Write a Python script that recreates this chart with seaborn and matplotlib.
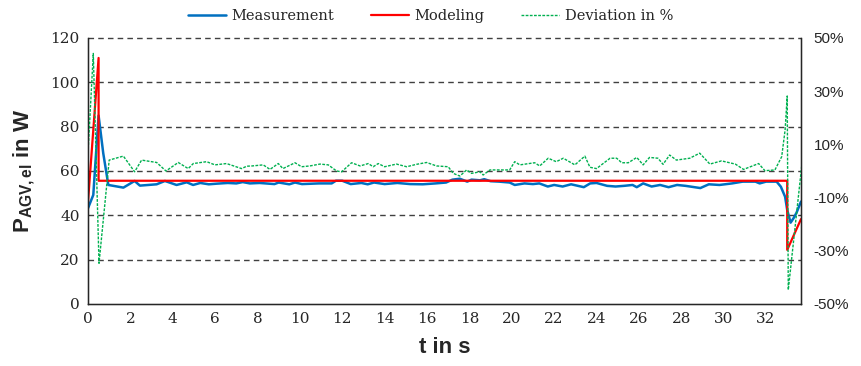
import numpy as np
import pandas as pd
import seaborn as sns
from matplotlib import pyplot as plt
from matplotlib.ticker import FuncFormatter

# measured power (W)
t_meas = [0, 0.25, 0.5, 0.72, 0.96, 1.67, 2.2, 2.45, 3.24, 3.63, 4.18, 4.66, 4.96,
          5.3, 5.7, 6.1, 6.6, 7.0, 7.3, 7.64, 8.1, 8.8, 9.0, 9.5, 9.77, 10.1, 10.9,
          11.5, 11.7, 12.0, 12.4, 12.9, 13.2, 13.5, 14.0, 14.6, 15.2, 15.8, 16.4,
          16.9, 17.2, 17.55, 17.9, 18.1, 18.5, 18.7, 19.0, 19.4, 19.9, 20.14, 20.6,
          21.0, 21.3, 21.7, 22.0, 22.4, 22.8, 23.4, 23.7, 24.0, 24.5, 24.9, 25.3,
          25.7, 25.9, 26.2, 26.6, 27.0, 27.4, 27.8, 28.2, 28.9, 29.3, 29.8, 30.4,
          30.9, 31.5, 31.7, 32.0, 32.5, 32.7, 32.9, 33.0, 33.16, 33.3, 33.44, 33.65]
p_meas = [43.2, 49.2, 85.0, 68.0, 53.7, 52.5, 55.5, 53.4, 54.0, 55.5, 53.7, 54.9, 53.7,
          54.6, 54.0, 54.3, 54.6, 54.4, 55.0, 54.4, 54.6, 54.1, 54.8, 54.0, 54.8, 54.1, 54.4,
          54.4, 55.6, 55.6, 54.1, 54.6, 54.0, 54.8, 54.1, 54.6, 54.1, 54.0, 54.4,
          54.8, 56.1, 56.5, 55.2, 56.1, 55.8, 56.3, 55.4, 55.2, 54.8, 53.7, 54.4,
          54.1, 54.4, 53.0, 53.7, 53.0, 54.0, 52.7, 54.4, 54.6, 53.3, 53.0, 53.3,
          53.7, 52.7, 54.4, 53.0, 53.7, 52.7, 53.7, 53.3, 52.3, 54.0, 53.7, 54.4,
          55.2, 55.2, 54.4, 55.2, 55.2, 52.9, 48.4, 42.4, 36.7, 38.7, 41.2, 46.2]

# model power (W)
t_model = [0, 0.5, 0.5, 33.0, 33.0, 33.65]
p_model = [46.0, 111.0, 55.6, 55.6, 24.4, 38.3]

# deviation (%)
t_dev = [0, 0.25, 0.52, 1.0, 1.67, 2.2, 2.53, 3.24, 3.68, 4.26, 4.73, 4.97, 5.6,
         5.99, 6.54, 7.25, 7.49, 7.75, 8.27, 8.59, 8.98, 9.2, 9.77, 10.08, 10.47,
         10.95, 11.34, 11.73, 11.97, 12.44, 12.84, 13.23, 13.46, 13.7, 14.0, 14.56,
         15.04, 15.5, 15.98, 16.45, 17.0, 17.24, 17.55, 17.87, 18.1, 18.5, 18.65,
         18.97, 19.43, 19.9, 20.14, 20.38, 21.08, 21.32, 21.72, 22.1, 22.43, 22.98,
         23.45, 23.69, 24.0, 24.64, 24.95, 25.19, 25.5, 25.9, 26.2, 26.5, 26.9,
         27.14, 27.45, 27.77, 28.4, 28.87, 29.35, 29.9, 30.55, 30.94, 31.65, 31.95,
         32.42, 32.74, 32.9, 33.0, 33.05, 33.68]
dev = [6.6, 44.2, -34.7, 4.1, 5.6, -0.3, 4.1, 3.2, 0.0, 3.2, 0.9, 2.8, 3.5,
       2.3, 2.8, 0.9, 1.8, 1.9, 2.3, 0.6, 2.8, 0.9, 3.1, 1.6, 1.9,
       2.6, 2.3, 0.0, -0.3, 3.1, 1.9, 2.8, 1.6, 2.8, 1.6, 2.6,
       1.6, 2.5, 3.2, 1.9, 1.6, -0.9, -1.9, 0.4, -0.9, -0.3, -1.5,
       0.4, 0.4, 0.4, 3.5, 2.3, 3.1, 1.9, 4.8, 3.5, 4.8, 2.3,
       5.6, 1.4, 0.9, 4.8, 4.8, 3.1, 3.1, 5.1, 2.3, 5.1, 4.8,
       2.5, 6.0, 4.1, 4.8, 6.7, 2.6, 3.8, 2.6, 0.6, 2.8, 0.1,
       0.4, 5.4, 15.4, 28.2, -44.7, 1.6]

x_ticks = list(range(0, 33, 2))
y_ticks = [0, 20, 40, 60, 80, 100, 120]
dev_ticks = [-50, -30, -10, 10, 30, 50]

sns.set_style('white')
plt.rcParams['mathtext.fontset'] = 'custom'
plt.rcParams['mathtext.rm'] = 'Liberation Sans:bold'
plt.rcParams['mathtext.it'] = 'Liberation Sans:bold'
plt.rcParams['mathtext.bf'] = 'Liberation Sans:bold'

fig = plt.figure(figsize=(8.61, 3.66), dpi=100)
ax = fig.add_axes([0.1022, 0.1694, 0.8281, 0.7268])

sns.lineplot(x=t_meas, y=p_meas, ax=ax, color='#0070C0', lw=1.8,
             estimator=None, sort=False, label='Measurement')
sns.lineplot(x=t_model, y=p_model, ax=ax, color='#FF0000', lw=1.6,
             estimator=None, sort=False, label='Modeling')

ax.set_xlim(0, 33.65)
ax.set_ylim(0, 120)
ax.set_xticks(x_ticks)
ax.set_yticks(y_ticks)
ax.tick_params(length=0, labelsize=11, pad=6)
for lab in ax.get_xticklabels() + ax.get_yticklabels():
    lab.set_fontfamily('DejaVu Serif')
for yv in y_ticks[1:]:
    ax.axhline(yv, color='#404040', lw=1.0, ls=(0, (4, 3)), zorder=0, clip_on=False)
ax.spines['top'].set_visible(False)
for s in ['left', 'bottom', 'right']:
    ax.spines[s].set_color('black')
    ax.spines[s].set_linewidth(1.0)

ax.set_xlabel('t in s', fontsize=16, fontweight='bold', family='Liberation Sans', labelpad=8)
ax.set_ylabel(r'$\mathregular{P_{AGV,el}}$ in W', fontsize=16, fontweight='bold',
              family='Liberation Sans', labelpad=10)

ax2 = ax.twinx()
sns.lineplot(x=t_dev, y=dev, ax=ax2, color='#00B050', lw=1.0, ls=(0, (2, 1)),
             estimator=None, sort=False, label='Deviation in %')
ax2.set_ylim(-50, 50)
ax2.set_yticks(dev_ticks)
ax2.yaxis.set_major_formatter(FuncFormatter(lambda v, p: f'{v:.0f}%'))
ax2.tick_params(length=0, labelsize=11, pad=9)
for lab in ax2.get_yticklabels():
    lab.set_fontfamily('Liberation Sans')
ax2.set_ylabel('')
ax2.spines['top'].set_visible(False)

h1, l1 = ax.get_legend_handles_labels()
h2, l2 = ax2.get_legend_handles_labels()
ax.get_legend().remove()
ax2.get_legend().remove()
fig.legend(h1 + h2, l1 + l2, loc='upper center', bbox_to_anchor=(0.5, 1.01), ncol=3,
           frameon=False, prop={'family': 'DejaVu Serif', 'size': 10.5},
           handlelength=2.6, columnspacing=2.5, handletextpad=0.4)

fig.savefig('out.png', dpi=100)
